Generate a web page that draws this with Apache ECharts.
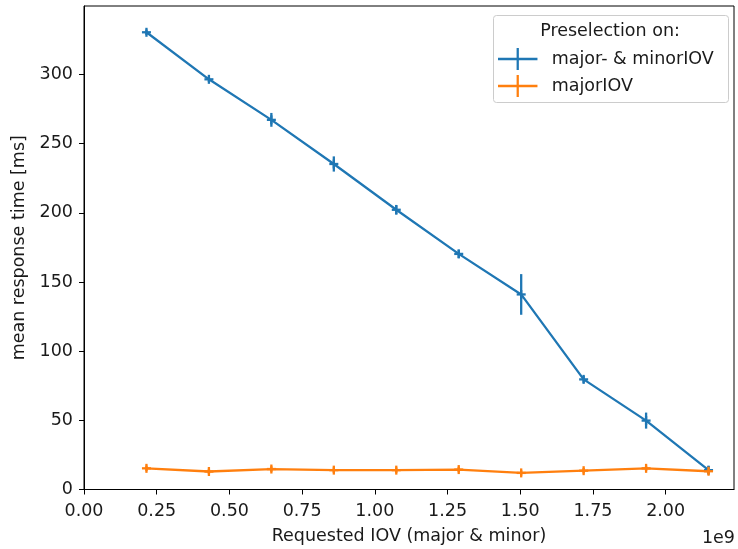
<!DOCTYPE html>
<html>
<head>
<meta charset="utf-8">
<script src="https://cdn.jsdelivr.net/npm/echarts@6/dist/echarts.min.js"></script>
<style>html,body{margin:0;padding:0;background:#fff;}#c{width:738px;height:549px;}</style>
</head>
<body>
<div id="c"></div>
<script>
const xValues = [214748365, 429496730, 644245094, 858993459, 1073741824, 1288490189, 1503238554, 1717986918, 1932735283, 2147483648];
const bothMean = [330.5, 296.5, 267.2, 235.3, 202.2, 170.3, 141.0, 79.6, 49.8, 14.0];
const bothErr  = [2.0, 2.0, 5.0, 5.5, 3.5, 3.0, 14.7, 2.5, 5.8, 3.0];
const majorMean = [15.3, 13.0, 14.8, 14.0, 14.0, 14.4, 12.0, 13.6, 15.3, 13.2];
const majorErr  = [2.0, 2.0, 2.0, 2.0, 2.0, 2.0, 2.0, 2.0, 2.0, 2.0];
const seriesNames = ['major- & minorIOV', 'majorIOV'];
const colors = ['#1f77b4', '#ff7f0e'];
const legendTitle = 'Preselection on:';
const xName = 'Requested IOV (major & minor)';
const yName = 'mean response time [ms]';
const xOffsetText = '1e9';

const FONT = 'DejaVu Sans';
const FS = 17.5;
const TXT = '#1a1a1a';
const LW = 2.3;

function zip(xs, ys, es) { return xs.map((x, i) => [x, ys[i], es[i]]); }

function errRender(color) {
  return function (params, api) {
    const x = api.value(0), y = api.value(1), e = api.value(2);
    const c = api.coord([x, y]);
    const hi = api.coord([x, y + e]);
    const lo = api.coord([x, y - e]);
    const m = 4.5;
    const st = { stroke: color, lineWidth: LW };
    return {
      type: 'group',
      children: [
        { type: 'line', shape: { x1: c[0], y1: hi[1], x2: c[0], y2: lo[1] }, style: st },
        { type: 'line', shape: { x1: c[0], y1: c[1] - m, x2: c[0], y2: c[1] + m }, style: st },
        { type: 'line', shape: { x1: c[0] - m, y1: c[1], x2: c[0] + m, y2: c[1] }, style: st }
      ]
    };
  };
}

const iconPath = 'path://M0,10H40V12.3H0Z M18.85,0H21.15V22.3H18.85Z';

const chart = echarts.init(document.getElementById('c'), null, { renderer: 'canvas' });
const series = [];
[[bothMean, bothErr], [majorMean, majorErr]].forEach(([m, e], i) => {
  const data = zip(xValues, m, e);
  series.push({
    name: seriesNames[i], type: 'line', data: data.map(d => [d[0], d[1]]),
    symbol: 'none', lineStyle: { color: colors[i], width: LW }, itemStyle: { color: colors[i] },
    z: 2, animation: false
  });
  series.push({
    name: seriesNames[i], type: 'custom', data: data, renderItem: errRender(colors[i]),
    itemStyle: { color: colors[i] }, z: 3, animation: false,
    encode: { x: 0, y: 1 }
  });
});

chart.setOption({
  animation: false,
  backgroundColor: '#fff',
  textStyle: { fontFamily: FONT },
  grid: { left: 84, right: 4, top: 6, bottom: 59.5, show: true, borderColor: '#000', borderWidth: 1,
    backgroundColor: 'transparent', containLabel: false, outerBoundsMode: 'none' },
  xAxis: {
    type: 'value', min: 0, max: 2.235e9, interval: 0.25e9,
    name: xName, nameLocation: 'middle', nameGap: 38,
    nameTextStyle: { fontFamily: FONT, fontSize: FS, color: TXT },
    axisLine: { show: true, onZero: false, lineStyle: { color: '#000', width: 1 } },
    axisTick: { show: true, inside: false, length: 5, lineStyle: { color: '#000', width: 1 } },
    axisLabel: { margin: 13, fontFamily: FONT, fontSize: FS, color: TXT, showMaxLabel: false,
      formatter: v => (v / 1e9).toFixed(2) },
    splitLine: { show: false }
  },
  yAxis: {
    type: 'value', min: 0, max: 349.5, interval: 50,
    name: yName, nameLocation: 'middle', nameGap: 56,
    nameTextStyle: { fontFamily: FONT, fontSize: FS, color: TXT },
    axisLine: { show: true, onZero: false, lineStyle: { color: '#000', width: 1 } },
    axisTick: { show: true, inside: false, length: 5, lineStyle: { color: '#000', width: 1 } },
    axisLabel: { margin: 11, fontFamily: FONT, fontSize: FS, color: TXT, showMaxLabel: false },
    splitLine: { show: false }
  },
  legend: {
    orient: 'vertical', left: 498, top: 48, padding: 0, itemGap: 5,
    itemWidth: 40, itemHeight: 22, z: 10,
    data: seriesNames.map(n => ({ name: n, icon: iconPath })),
    itemStyle: { borderWidth: 0 },
    textStyle: { fontFamily: FONT, fontSize: FS, color: TXT, padding: [0, 0, 0, 9] },
    selectedMode: false
  },
  graphic: [
    { type: 'rect', left: 493, top: 15, z: 5,
      shape: { width: 235, height: 87, r: 3 },
      style: { fill: 'rgba(255,255,255,0.8)', stroke: '#cccccc', lineWidth: 1 } },
    { type: 'text', z: 11, x: 610, y: 31.5,
      style: { text: legendTitle, fontFamily: FONT, fontSize: FS, fill: TXT, align: 'center', verticalAlign: 'middle' } },
    { type: 'text', z: 11, x: 735, y: 538,
      style: { text: xOffsetText, fontFamily: FONT, fontSize: FS, fill: TXT, align: 'right', verticalAlign: 'middle' } }
  ],
  series: series
});
</script>
</body>
</html>
